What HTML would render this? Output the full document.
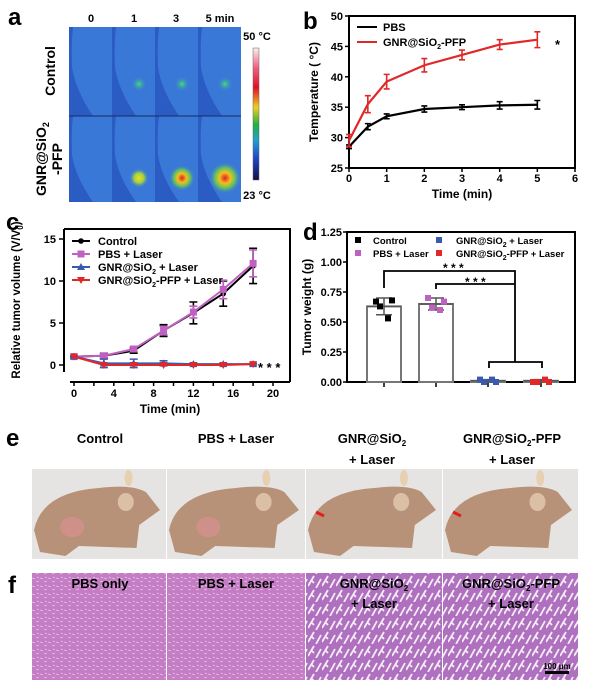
<!DOCTYPE html>
<html><head><meta charset="utf-8"><style>
body{margin:0;background:#fff;}
svg{display:block;font-family:"Liberation Sans",Arial,sans-serif;font-weight:bold;}
</style></head><body>
<svg id="fig" width="600" height="689" viewBox="0 0 600 689" xmlns="http://www.w3.org/2000/svg">
<defs>
<linearGradient id="cbar" x1="0" y1="0" x2="0" y2="1">
<stop offset="0" stop-color="#fbeef0"/><stop offset="0.15" stop-color="#f06080"/><stop offset="0.3" stop-color="#e0102a"/><stop offset="0.45" stop-color="#f0d020"/><stop offset="0.58" stop-color="#20b040"/><stop offset="0.7" stop-color="#20a0d0"/><stop offset="0.85" stop-color="#2040c0"/><stop offset="1" stop-color="#101040"/>
</linearGradient>
<radialGradient id="hotG"><stop offset="0" stop-color="#40e070"/><stop offset="1" stop-color="#3a78d8" stop-opacity="0"/></radialGradient>
<radialGradient id="hot1"><stop offset="0" stop-color="#f0e020"/><stop offset="0.5" stop-color="#a0d040"/><stop offset="1" stop-color="#3a78d8" stop-opacity="0"/></radialGradient>
<radialGradient id="hot3"><stop offset="0" stop-color="#e02020"/><stop offset="0.35" stop-color="#f0c020"/><stop offset="0.65" stop-color="#60c060"/><stop offset="1" stop-color="#3a78d8" stop-opacity="0"/></radialGradient>
<pattern id="he" width="8" height="8" patternUnits="userSpaceOnUse"><rect width="8" height="8" fill="#c47cc4"/><path d="M0 2l3 1M4 6l3-1M5 1l2 1" stroke="#e8c8e8" stroke-width="0.8"/></pattern>
<pattern id="he2" width="14" height="14" patternUnits="userSpaceOnUse"><rect width="14" height="14" fill="#b070c0"/><path d="M0 12L6 2M8 14L13 5M3 6l3 3" stroke="#f4eef4" stroke-width="1.8"/></pattern>
</defs>

<!-- panel a -->
<text x="8" y="25" font-size="24">a</text>
<g font-size="11" text-anchor="middle">
<text x="91" y="22">0</text><text x="134" y="22">1</text><text x="176" y="22">3</text><text x="220" y="22">5 min</text></g>
<g id="thermal"></g>
<text transform="translate(55,71) rotate(-90)" font-size="14" text-anchor="middle">Control</text>
<text transform="translate(46,159) rotate(-90)" font-size="14" text-anchor="middle">GNR@SiO<tspan font-size="9" dy="3">2</tspan></text>
<text transform="translate(62,159) rotate(-90)" font-size="14" text-anchor="middle">-PFP</text>
<rect x="253" y="48" width="6" height="132" fill="url(#cbar)" stroke="#666" stroke-width="0.5"/>
<text x="257" y="40" font-size="11" text-anchor="middle">50 °C</text>
<text x="257" y="199" font-size="11" text-anchor="middle">23 °C</text>

<!-- panel b -->
<text x="303" y="29" font-size="24">b</text>
<g id="chartB"></g>
<!-- panel c -->
<text x="6" y="230" font-size="24">c</text>
<g id="chartC"></g>
<!-- panel d -->
<text x="303" y="240" font-size="24">d</text>
<g id="chartD"></g>

<!-- panel e -->
<text x="6" y="446" font-size="24">e</text>
<g font-size="13" text-anchor="middle">
<text x="100" y="443">Control</text>
<text x="236" y="443">PBS + Laser</text>
<text x="372" y="443">GNR@SiO<tspan font-size="8" dy="3">2</tspan></text>
<text x="372" y="464">+ Laser</text>
<text x="512" y="443">GNR@SiO<tspan font-size="8" dy="3">2</tspan><tspan dy="-3">-PFP</tspan></text>
<text x="512" y="464">+ Laser</text></g>
<g id="photos"></g>

<!-- panel f -->
<text x="8" y="593" font-size="24">f</text>
<g id="histo"></g>
<g font-size="13" text-anchor="middle">
<text x="100" y="588">PBS only</text>
<text x="236" y="588">PBS + Laser</text>
<text x="374" y="588">GNR@SiO<tspan font-size="8" dy="3">2</tspan></text>
<text x="374" y="608">+ Laser</text>
<text x="511" y="588">GNR@SiO<tspan font-size="8" dy="3">2</tspan><tspan dy="-3">-PFP</tspan></text>
<text x="511" y="608">+ Laser</text></g>
<text x="557" y="669" font-size="8" text-anchor="middle">100 μm</text>
<rect x="545" y="671" width="24" height="3" fill="#000"/>
</svg>
<script>
// ---- data ----
const timesB = [0, 0.5, 1, 2, 3, 4, 5];
const pbsTemp = [28.5, 31.8, 33.5, 34.7, 35.0, 35.3, 35.4];
const pbsErr = [0.3, 0.5, 0.4, 0.5, 0.4, 0.6, 0.7];
const gnrTemp = [29.5, 35.5, 39.2, 41.9, 43.6, 45.3, 46.1];
const gnrErr = [1.0, 1.4, 1.2, 1.1, 0.8, 0.8, 1.3];
const ticksBx = [0, 1, 2, 3, 4, 5, 6];
const ticksBy = [25, 30, 35, 40, 45, 50];

const daysC = [0, 3, 6, 9, 12, 15, 18];
const ctrlVol = [1.0, 1.1, 1.7, 4.1, 6.2, 8.5, 11.8];
const ctrlErr = [0.1, 0.3, 0.3, 0.7, 1.3, 1.5, 2.1];
const pbsVol = [1.0, 1.1, 1.9, 4.1, 6.3, 9.0, 12.1];
const pbsVolErr = [0.1, 0.2, 0.3, 0.5, 0.7, 1.1, 1.6];
const gnrVol = [1.0, 0.2, 0.2, 0.2, 0.1, 0.1, 0.1];
const gnrVolErr = [0.1, 0.5, 0.5, 0.3, 0.1, 0.1, 0.1];
const pfpVol = [1.0, 0.0, 0.0, 0.0, 0.0, 0.0, 0.1];
const ticksCx = [0, 4, 8, 12, 16, 20];
const ticksCy = [0, 5, 10, 15];

const groupsD = ["Control", "PBS + Laser", "GNR@SiO2 + Laser", "GNR@SiO2-PFP + Laser"];
const meanWeight = [0.63, 0.65, 0.01, 0.01];
const sdWeight = [0.07, 0.05, 0.01, 0.01];
const ptsControl = [0.67, 0.68, 0.63, 0.53];
const ptsPbs = [0.70, 0.67, 0.62, 0.60];
const ptsGnr = [0.02, 0.0, 0.0, 0.02];
const ptsPfp = [0.0, 0.0, 0.0, 0.02];
const ticksDy = [0, 0.25, 0.5, 0.75, 1.0, 1.25];

const NS = "http://www.w3.org/2000/svg";
function mk(parent, tag, attrs, text) {
  const e = document.createElementNS(NS, tag);
  for (const k in attrs) e.setAttribute(k, attrs[k]);
  if (text !== undefined) e.textContent = text;
  parent.appendChild(e);
  return e;
}

// ---- thermal images ----
(function(){
  const g = document.getElementById('thermal');
  const xs = [69, 112, 155, 198];
  const rows = [27, 116];
  const hots = [[null, ['hotG',8], ['hotG',8], ['hotG',8]], [null, ['hot1',10], ['hot3',13], ['hot3',16]]];
  rows.forEach((ry, r) => {
    xs.forEach((cx, c) => {
      const cell = mk(g, 'g', {});
      
      
      const h = r === 0 ? 89 : 86;
      mk(cell, 'rect', {x: cx, y: ry, width: 43, height: h, fill: '#2a5cc4'});
      mk(cell, 'path', {d: `M${cx+4} ${ry} L${cx+43} ${ry} L${cx+43} ${ry+h} L${cx+24} ${ry+h} Q${cx+6} ${ry+h*0.7} ${cx+3} ${ry+h*0.45} Q${cx+2} ${ry+h*0.2} ${cx+4} ${ry} Z`, fill: '#3a78d8'});
      const hs = hots[r][c];
      if (hs) mk(cell, 'circle', {cx: cx + 27, cy: ry + (r===0?57:62), r: hs[1], fill: `url(#${hs[0]})`});
    });
  });
  mk(g, 'line', {x1: 69, y1: 116, x2: 241, y2: 116, stroke: '#1a2a60', 'stroke-width': 1});
})();

// ---- panel b ----
(function(){
  const g = document.getElementById('chartB');
  const X0 = 349, X1 = 575, Y0 = 168, Y1 = 16;
  const sx = v => X0 + (v - 0) / 6 * (X1 - X0);
  const sy = v => Y0 - (v - 25) / 25 * (Y0 - Y1);
  const box = mk(g, 'rect', {x: X0, y: Y1, width: X1 - X0, height: Y0 - Y1, fill: 'none', stroke: '#000', 'stroke-width': 2});
  
  
  ticksBx.forEach(t => {
    mk(g, 'line', {x1: sx(t), y1: Y0, x2: sx(t), y2: Y0 + 4, stroke: '#000', 'stroke-width': 1.5});
    const l = mk(g, 'text', {x: sx(t), y: Y0 + 14, 'font-size': 11, 'text-anchor': 'middle'}, t);
    
    
  });
  ticksBy.forEach(t => {
    mk(g, 'line', {x1: X0 - 4, y1: sy(t), x2: X0, y2: sy(t), stroke: '#000', 'stroke-width': 1.5});
    const l = mk(g, 'text', {x: X0 - 6, y: sy(t) + 4, 'font-size': 11, 'text-anchor': 'end'}, t);
    
    
  });
  const xt = mk(g, 'text', {x: 462, y: 198, 'font-size': 12, 'text-anchor': 'middle'}, 'Time (min)');
  
  
  const yt = mk(g, 'text', {transform: 'translate(318,92) rotate(-90)', 'font-size': 12, 'text-anchor': 'middle'}, 'Temperature ( °C)');
  
  
  function series(vals, errs, color, name) {
    const s = mk(g, 'g', {});
    
    
    mk(s, 'polyline', {points: timesB.map((t, i) => sx(t) + ',' + sy(vals[i])).join(' '), fill: 'none', stroke: color, 'stroke-width': 2.2});
    timesB.forEach((t, i) => {
      const x = sx(t), a = sy(vals[i] + errs[i]), b = sy(vals[i] - errs[i]);
      mk(s, 'path', {d: `M${x} ${a}V${b}M${x-3} ${a}h6M${x-3} ${b}h6`, stroke: color, 'stroke-width': 1.6, fill: 'none'});
    });
  }
  series(pbsTemp, pbsErr, '#000', 'series-pbs');
  series(gnrTemp, gnrErr, '#e02828', 'series-gnr-pfp');
  const lg = mk(g, 'g', {'font-size': 11});
  
  
  mk(lg, 'line', {x1: 357, y1: 27, x2: 377, y2: 27, stroke: '#000', 'stroke-width': 2});
  mk(lg, 'text', {x: 383, y: 31}, 'PBS');
  mk(lg, 'line', {x1: 357, y1: 42, x2: 377, y2: 42, stroke: '#e02828', 'stroke-width': 2});
  const t2 = mk(lg, 'text', {x: 383, y: 46}, 'GNR@SiO');
  mk(t2, 'tspan', {'font-size': 7, dy: 3}, '2');
  mk(t2, 'tspan', {dy: -3}, '-PFP');
  mk(g, 'text', {x: 555, y: 49, 'font-size': 13}, '*');
})();

// ---- panel c ----
(function(){
  const g = document.getElementById('chartC');
  const X0 = 74, X1 = 273, Y0 = 365, Y1 = 239;
  const sx = v => X0 + v / 20 * (X1 - X0);
  const sy = v => Y0 - v / 15 * (Y0 - Y1);
  mk(g, 'path', {d: 'M64 229H290V382', fill: 'none', stroke: '#000', 'stroke-width': 2});
  const ay = mk(g, 'line', {x1: 64, y1: 229, x2: 64, y2: 372, stroke: '#000', 'stroke-width': 2});
  
  
  const ax = mk(g, 'line', {x1: 70, y1: 382, x2: 290, y2: 382, stroke: '#000', 'stroke-width': 2});
  
  
  for (let t = 0; t <= 20; t += 2) mk(g, 'line', {x1: sx(t), y1: 382, x2: sx(t), y2: 386, stroke: '#000', 'stroke-width': 1.5});
  ticksCx.forEach(t => {
    const l = mk(g, 'text', {x: sx(t), y: 397, 'font-size': 11, 'text-anchor': 'middle'}, t);
    
    
  });
  ticksCy.forEach(t => {
    mk(g, 'line', {x1: 59, y1: sy(t), x2: 64, y2: sy(t), stroke: '#000', 'stroke-width': 1.5});
    const l = mk(g, 'text', {x: 56, y: sy(t) + 4, 'font-size': 11, 'text-anchor': 'end'}, t);
    
    
  });
  const xt = mk(g, 'text', {x: 170, y: 413, 'font-size': 12, 'text-anchor': 'middle'}, 'Time (min)');
  
  
  const yt = mk(g, 'text', {transform: 'translate(20,300) rotate(-90)', 'font-size': 11.5, 'text-anchor': 'middle'}, 'Relative tumor volume (V/V');
  mk(yt, 'tspan', {'font-size': 8, dy: 3}, '0');
  mk(yt, 'tspan', {dy: -3}, ')');
  
  
  function marker(s, shape, x, y, color) {
    if (shape === 'circle') mk(s, 'circle', {cx: x, cy: y, r: 2.8, fill: color});
    else if (shape === 'square') mk(s, 'rect', {x: x - 3.5, y: y - 3.5, width: 7, height: 7, fill: color});
    else if (shape === 'up') mk(s, 'path', {d: `M${x} ${y-4}L${x+4} ${y+3}L${x-4} ${y+3}Z`, fill: color});
    else mk(s, 'path', {d: `M${x} ${y+4}L${x+4} ${y-3}L${x-4} ${y-3}Z`, fill: color});
  }
  function series(vals, errs, color, shape, name) {
    const s = mk(g, 'g', {});
    
    
    mk(s, 'polyline', {points: daysC.map((t, i) => sx(t) + ',' + sy(vals[i])).join(' '), fill: 'none', stroke: color, 'stroke-width': 2});
    daysC.forEach((t, i) => {
      if (errs) {
        const x = sx(t), a = sy(vals[i] + errs[i]), b = sy(vals[i] - errs[i]);
        mk(s, 'path', {d: `M${x} ${a}V${b}M${x-4} ${a}h8M${x-4} ${b}h8`, stroke: color, 'stroke-width': 1.6, fill: 'none'});
      }
      marker(s, shape, sx(t), sy(vals[i]), color);
    });
  }
  series(ctrlVol, ctrlErr, '#000', 'circle', 'series-control');
  series(pbsVol, pbsVolErr, '#c060c0', 'square', 'series-pbs-laser');
  series(gnrVol, gnrVolErr, '#3a5ab0', 'up', 'series-gnr-laser');
  series(pfpVol, null, '#e02828', 'down', 'series-gnr-pfp-laser');
  mk(g, 'text', {x: 258, y: 372, 'font-size': 13}, '* * *');
  const lg = mk(g, 'g', {'font-size': 11});
  
  
  const items = [['Control', '#000', 'circle'], ['PBS + Laser', '#c060c0', 'square'], ['GNR@SiO2 + Laser', '#3a5ab0', 'up'], ['GNR@SiO2-PFP + Laser', '#e02828', 'down']];
  items.forEach((it, i) => {
    const y = 241 + i * 13;
    mk(lg, 'line', {x1: 72, y1: y, x2: 90, y2: y, stroke: it[1], 'stroke-width': 2});
    marker(lg, it[2], 81, y, it[1]);
    const t = mk(lg, 'text', {x: 98, y: y + 4});
    const parts = it[0].split('SiO2');
    if (parts.length > 1) {
      t.appendChild(document.createTextNode(parts[0] + 'SiO'));
      mk(t, 'tspan', {'font-size': 7, dy: 3}, '2');
      mk(t, 'tspan', {dy: -3}, parts[1]);
    } else t.textContent = it[0];
  });
})();

// ---- panel d ----
(function(){
  const g = document.getElementById('chartD');
  const X0 = 347, X1 = 575, Y0 = 382, Y1 = 232;
  const centers = [384, 436, 488, 541];
  const sy = v => Y0 - v / 1.25 * (Y0 - Y1);
  mk(g, 'path', {d: `M${X0} ${Y1}H${X1}V${Y0}H${X0}Z`, fill: 'none', stroke: '#000', 'stroke-width': 2});
  ticksDy.forEach(t => {
    mk(g, 'line', {x1: X0 - 4, y1: sy(t), x2: X0, y2: sy(t), stroke: '#000', 'stroke-width': 1.5});
    const l = mk(g, 'text', {x: X0 - 5, y: sy(t) + 4, 'font-size': 11, 'text-anchor': 'end'}, t.toFixed(2));
    
    
  });
  centers.forEach(c => mk(g, 'line', {x1: c, y1: Y0, x2: c, y2: Y0 + 5, stroke: '#000', 'stroke-width': 1.5}));
  const yt = mk(g, 'text', {transform: 'translate(311,307) rotate(-90)', 'font-size': 12, 'text-anchor': 'middle'}, 'Tumor weight (g)');
  
  
  const colors = ['#000', '#c060c0', '#3a5ab0', '#e02828'];
  const pts = [ptsControl, ptsPbs, ptsGnr, ptsPfp];
  const offs = [-8, 8, -4, 4];
  meanWeight.forEach((m, i) => {
    const c = centers[i];
    const bar = mk(g, 'rect', {x: c - 17, y: sy(m), width: 34, height: Y0 - sy(m), fill: '#fff', stroke: '#777', 'stroke-width': 2});
    
    
    const a = sy(m + sdWeight[i]), b = sy(m - sdWeight[i]);
    mk(g, 'path', {d: `M${c} ${a}V${b}M${c-8} ${a}h16M${c-8} ${b}h16M${c-17} ${sy(m)}h34`, stroke: '#555', 'stroke-width': 1.5, fill: 'none'});
    pts[i].forEach((p, j) => {
      const dot = mk(g, 'rect', {x: c + offs[j] - 3, y: sy(p) - 3, width: 6, height: 6, fill: colors[i]});
      
      
    });
  });
  const br = mk(g, 'path', {d: `M384 288V271H515V362M436 289V284H515M489 368V362H542V368`, fill: 'none', stroke: '#000', 'stroke-width': 1.8});
  
  
  mk(g, 'text', {x: 443, y: 272, 'font-size': 12}, '* * *');
  mk(g, 'text', {x: 465, y: 286, 'font-size': 12}, '* * *');
  const lg = mk(g, 'g', {'font-size': 9.5});
  
  
  const li = [[355, 240, 'Control'], [355, 253, 'PBS + Laser'], [436, 240, 'GNR@SiO2 + Laser'], [436, 253, 'GNR@SiO2-PFP + Laser']];
  li.forEach((it, i) => {
    mk(lg, 'rect', {x: it[0], y: it[1] - 3, width: 6, height: 6, fill: colors[i]});
    const t = mk(lg, 'text', {x: it[0] + (i < 2 ? 18 : 20), y: it[1] + 4});
    const parts = it[2].split('SiO2');
    if (parts.length > 1) {
      t.appendChild(document.createTextNode(parts[0] + 'SiO'));
      mk(t, 'tspan', {'font-size': 7, dy: 3}, '2');
      mk(t, 'tspan', {dy: -3}, parts[1]);
    } else t.textContent = it[2];
  });
})();

// ---- photos & histology ----
(function(){
  const cols = [[32, 166], [167, 305], [306, 442], [443, 578]];
  const pg = document.getElementById('photos');
  const hg = document.getElementById('histo');
  cols.forEach((c, i) => {
    const w = c[1] - c[0];
    const p = mk(pg, 'g', {});
    
    
    mk(p, 'rect', {x: c[0], y: 469, width: w, height: 90, fill: '#e6e4e2'});
    mk(p, 'path', {d: `M${c[0]+2} ${530} Q${c[0]+10} ${492} ${c[0]+w*0.5} ${488} Q${c[0]+w*0.75} ${484} ${c[0]+w*0.85} ${492} L${c[0]+w-6} ${510} L${c[0]+w*0.8} ${525} L${c[0]+w*0.78} ${548} L${c[0]+w*0.35} ${546} L${c[0]+w*0.25} ${556} L${c[0]+8} ${552} Z`, fill: '#b89278'});
    mk(p, 'ellipse', {cx: c[0] + w * 0.7, cy: 502, rx: 8, ry: 9, fill: '#dcc0a6'});
    mk(p, 'ellipse', {cx: c[0] + w * 0.72, cy: 478, rx: 4, ry: 8, fill: '#e6d0b0'});
    if (i < 2) mk(p, 'ellipse', {cx: c[0] + w * 0.3, cy: 527, rx: 12, ry: 10, fill: '#d0908a'});
    else mk(p, 'path', {d: `M${c[0]+10} ${512}l8 4`, stroke: '#e02020', 'stroke-width': 3});
    const h = mk(hg, 'rect', {x: c[0], y: 573, width: w, height: 107, fill: i < 2 ? 'url(#he)' : 'url(#he2)'});
    
    
  });
})();
</script>
</body></html>
